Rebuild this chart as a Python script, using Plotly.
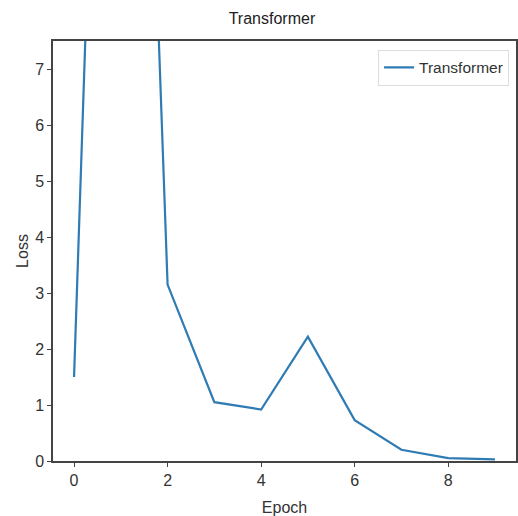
import plotly.graph_objects as go

epochs = [0, 1, 2, 3, 4, 5, 6, 7, 8, 9]
loss = [1.5, 26.5, 3.15, 1.05, 0.92, 2.22, 0.73, 0.2, 0.05, 0.03]

font_family = "Liberation Sans Narrow, Liberation Sans, DejaVu Sans"
axis_color = "#444444"

fig = go.Figure()

fig.add_trace(go.Scatter(
    x=epochs,
    y=loss,
    mode="lines",
    name="Transformer",
    line=dict(color="#2f7bb4", width=2.2),
))

fig.update_layout(
    width=518,
    height=516,
    title=dict(text="Transformer", x=0.525, xanchor="center", y=0.965, yanchor="middle",
               font=dict(family=font_family, size=16, color="#222222")),
    paper_bgcolor="white",
    plot_bgcolor="white",
    margin=dict(l=53, r=2, t=41, b=55),
    font=dict(family=font_family, size=15, color="#333333"),
    showlegend=True,
    legend=dict(
        x=0.985, y=0.979, xanchor="right", yanchor="top",
        bgcolor="rgba(255,255,255,0.9)",
        bordercolor="#dddddd", borderwidth=1,
        font=dict(family=font_family, size=15.5, color="#333333"),
    ),
)

fig.update_xaxes(
    range=[-0.45, 9.45],
    tickvals=[0, 2, 4, 6, 8],
    ticks="outside", ticklen=4, tickcolor=axis_color,
    tickfont=dict(size=16),
    showline=True, linecolor=axis_color, linewidth=1.5, mirror=True,
    showgrid=False, zeroline=False,
    title=dict(text="Epoch", standoff=14, font=dict(family=font_family, size=16)),
    automargin=False,
)
fig.update_yaxes(
    range=[0, 7.5],
    tickvals=[0, 1, 2, 3, 4, 5, 6, 7],
    ticks="outside", ticklen=4, tickcolor=axis_color,
    tickfont=dict(size=16),
    showline=True, linecolor=axis_color, linewidth=1.5, mirror=True,
    showgrid=False, zeroline=False,
    title=dict(text="Loss", standoff=3, font=dict(family=font_family, size=16)),
    automargin=False,
)

fig.write_html("out.html", config={"displayModeBar": False},
               post_script="document.body.style.margin='0';")
